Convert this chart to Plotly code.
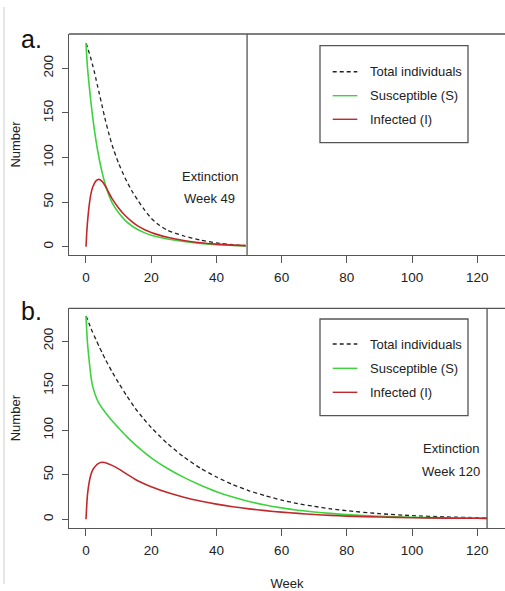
import plotly.graph_objects as go

# ---------------- data ----------------
weeks_a = [0, 0.25, 0.5, 1, 1.5, 2, 2.5, 3, 3.5, 4, 5, 6, 7, 8, 10, 12, 14, 16, 18, 20, 22.5, 25, 30, 35, 40, 45, 49]
total_a = [228, 226, 223, 217, 211, 204, 197, 189, 181, 173, 157, 141, 127, 114, 93.5, 77, 63, 51.5, 41, 32, 24, 18.5, 12, 7.5, 4.2, 2.2, 1.2]
susc_a = [228, 212, 199, 180, 162.5, 147, 133, 120.5, 109.5, 99.5, 82.5, 69, 58, 49.5, 38, 29.5, 23.5, 19, 15.5, 12.8, 10.6, 8.7, 5.8, 3.7, 2.3, 1.4, 0.9]
inf_a = [0, 17, 29, 47, 59, 66, 70.5, 73.5, 75, 75.5, 73, 67.5, 60.5, 54, 43.5, 35, 28.5, 23, 19, 16, 13, 10.6, 7, 4.5, 2.9, 1.8, 1.2]

weeks_b = [0, 0.25, 0.5, 1, 1.5, 2, 3, 4, 5, 6, 8, 10, 12.5, 15, 17.5, 20, 25, 30, 35, 40, 45, 50, 55, 60, 65, 70, 75, 80, 90, 100, 110, 120, 123]
total_b = [228, 226, 224, 219, 214.5, 210, 202, 194, 186.5, 179, 165.5, 153, 138.5, 125, 113.5, 103, 85, 70, 57.5, 47.5, 39, 32, 26.5, 21.5, 17.5, 14.5, 11.8, 9.6, 6.3, 4.1, 2.7, 1.8, 1.6]
susc_b = [228, 210, 196, 177, 161, 150, 138, 130, 124.5, 119.5, 110.5, 102.5, 92.8, 84, 76.2, 69, 57, 47, 38.5, 31, 25, 20, 16, 12.8, 10.2, 8.2, 6.6, 5.2, 3.4, 2.3, 1.6, 1.15, 1.05]
inf_b = [0, 17, 29, 42, 50, 55, 60, 63, 64, 63.5, 60.5, 56.5, 50.6, 45, 40.5, 36.5, 30, 24.8, 20.5, 17, 14.1, 11.7, 9.7, 8, 6.6, 5.4, 4.4, 3.6, 2.5, 1.8, 1.35, 1.1, 1.0]

extinction_a = 49.4
extinction_b = 123
x_ticks = [0, 20, 40, 60, 80, 100, 120]
y_ticks = [0, 50, 100, 150, 200]
legend_labels = ["Total individuals", "Susceptible (S)", "Infected (I)"]

# ---------------- style ----------------
W, H = 505, 591
FONT = "Liberation Sans, Arial, sans-serif"
C_TOTAL = "#222222"
C_S = "#3fd23f"
C_I = "#c0282d"
C_AX = "#555555"
TXT = "#222222"

def px_x(p):
    return p / W

def px_y(p):
    return 1 - p / H

fig = go.Figure()

panels = [
    ("x", "y", weeks_a, total_a, susc_a, inf_a),
    ("x2", "y2", weeks_b, total_b, susc_b, inf_b),
]
for xa, ya, w, tot, s, i in panels:
    fig.add_trace(go.Scatter(x=w, y=tot, xaxis=xa, yaxis=ya, mode="lines", name=legend_labels[0],
                             line=dict(color=C_TOTAL, width=1.3, dash="4px,3px", shape="spline", smoothing=0.6),
                             showlegend=False))
    fig.add_trace(go.Scatter(x=w, y=s, xaxis=xa, yaxis=ya, mode="lines", name=legend_labels[1],
                             line=dict(color=C_S, width=1.6, shape="spline", smoothing=0.6), showlegend=False))
    fig.add_trace(go.Scatter(x=w, y=i, xaxis=xa, yaxis=ya, mode="lines", name=legend_labels[2],
                             line=dict(color=C_I, width=1.6, shape="spline", smoothing=0.6), showlegend=False))

axis_common = dict(showgrid=False, zeroline=False, showline=True, linecolor=C_AX, linewidth=1.3,
                   ticks="outside", tickcolor=C_AX, tickwidth=1.2, automargin=False,
                   tickfont=dict(family=FONT, size=13.5, color=TXT))
xdom = [px_x(69), 1.0]
fig.update_layout(
    width=W, height=H, margin=dict(l=0, r=0, t=0, b=0),
    paper_bgcolor="white", plot_bgcolor="white",
    xaxis=dict(domain=xdom, range=[-5.21, 128.5], tickvals=x_ticks, ticklen=7, anchor="y",
               ticklabelstandoff=3, **axis_common),
    yaxis=dict(domain=[px_y(255), px_y(34)], range=[-9.3, 238.5], tickvals=y_ticks, ticklen=6,
               tickangle=-90, anchor="x", ticklabelstandoff=3,
               title=dict(text="Number", font=dict(family=FONT, size=13, color=TXT), standoff=17),
               **axis_common),
    xaxis2=dict(domain=xdom, range=[-5.21, 128.5], tickvals=x_ticks, ticklen=7, anchor="y2",
                ticklabelstandoff=3,
                title=dict(text="Week", font=dict(family=FONT, size=13, color=TXT), standoff=23),
                **axis_common),
    yaxis2=dict(domain=[px_y(528), px_y(308.3)], range=[-9.76, 236.7], tickvals=y_ticks, ticklen=6,
                tickangle=-90, anchor="x2", ticklabelstandoff=3,
                title=dict(text="Number", font=dict(family=FONT, size=13, color=TXT), standoff=17),
                **axis_common),
)

shapes = []
annotations = []
# box tops and extinction lines
for xa, ya, ext in [("x", "y", extinction_a), ("x2", "y2", extinction_b)]:
    shapes.append(dict(type="line", xref=f"{xa} domain", yref=f"{ya} domain", x0=0, x1=1, y0=1, y1=1,
                       line=dict(color=C_AX, width=1.3)))
    shapes.append(dict(type="line", xref=xa, yref=f"{ya} domain", x0=ext, x1=ext, y0=0, y1=1,
                       line=dict(color=C_AX, width=1.3)))

# faint page border on the left
shapes.append(dict(type="line", xref="paper", yref="paper", x0=px_x(4), x1=px_x(4), y0=px_y(7), y1=px_y(584),
                   line=dict(color="#cccccc", width=1)))

# legends (drawn as boxes with sample lines and labels)
for top, bottom, rows in [(45.7, 142.7, [71.7, 95.7, 119.3]), (319, 415.7, [344, 368.3, 392.3])]:
    shapes.append(dict(type="rect", xref="paper", yref="paper", x0=px_x(320), x1=px_x(468),
                       y0=px_y(bottom), y1=px_y(top), line=dict(color=C_AX, width=1.3), fillcolor="white"))
    for ry, lab, col, dash in zip(rows, legend_labels, [C_TOTAL, C_S, C_I], ["4px,3px", "solid", "solid"]):
        shapes.append(dict(type="line", xref="paper", yref="paper", x0=px_x(332.7), x1=px_x(357.3),
                           y0=px_y(ry), y1=px_y(ry), line=dict(color=col, width=1.4, dash=dash)))
        annotations.append(dict(xref="paper", yref="paper", x=px_x(368), y=px_y(ry), text=lab,
                                showarrow=False, xanchor="left", yanchor="middle",
                                font=dict(family=FONT, size=13, color=TXT)))

# extinction labels
for xa, ya, xv, wk in [("x", "y", 38.0, "Week 49"), ("x2", "y2", 111.9, "Week 120")]:
    annotations.append(dict(xref=xa, yref=ya, x=xv, y=79, text="Extinction", showarrow=False,
                            xanchor="center", yanchor="middle", font=dict(family=FONT, size=13, color=TXT)))
    annotations.append(dict(xref=xa, yref=ya, x=xv, y=53.5, text=wk, showarrow=False,
                            xanchor="center", yanchor="middle", font=dict(family=FONT, size=13, color=TXT)))

# panel letters
for lab, cy in [("a.", 39), ("b.", 311)]:
    annotations.append(dict(xref="paper", yref="paper", x=px_x(19), y=px_y(cy), text=lab, showarrow=False,
                            xanchor="left", yanchor="middle", font=dict(family=FONT, size=25, color="#111111")))

fig.update_layout(shapes=shapes, annotations=annotations)
fig.write_html("out.html", config={"displayModeBar": False},
               post_script="document.body.style.margin='0';document.body.style.overflow='hidden';")
